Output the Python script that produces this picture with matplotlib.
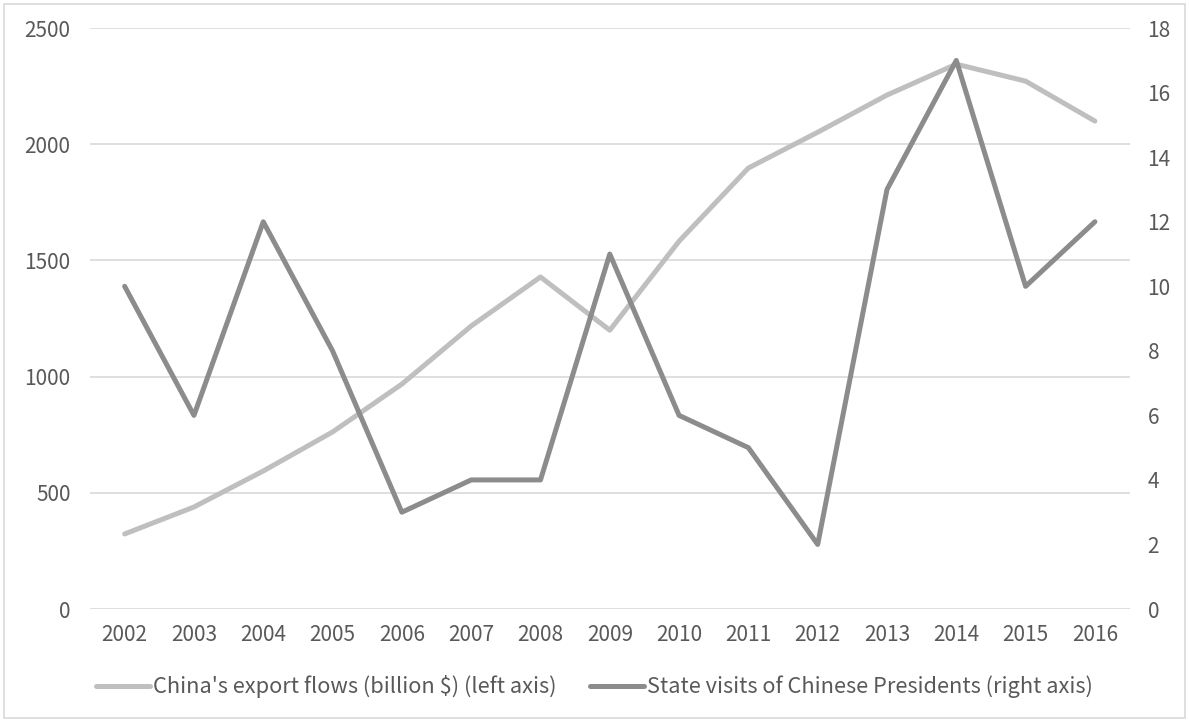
import matplotlib.pyplot as plt
from matplotlib.patches import Rectangle

plt.rcParams['font.family'] = ['Noto Sans CJK SC', 'DejaVu Sans']

years = ['2002', '2003', '2004', '2005', '2006', '2007', '2008', '2009',
         '2010', '2011', '2012', '2013', '2014', '2015', '2016']
exports = [323, 439, 594, 762, 968, 1218, 1429, 1200,
           1583, 1898, 2052, 2212, 2345, 2272, 2100]
visits = [10, 6, 12, 8, 3, 4, 4, 11, 6, 5, 2, 13, 17, 10, 12]

text_col = '#595959'
grid_col = '#D9D9D9'
fs = 15

fig = plt.figure(figsize=(11.89, 7.22), dpi=100)
ax = fig.add_axes([0.0757, 0.1565, 0.8743, 0.8045])
ax2 = ax.twinx()

x = range(len(years))
l1, = ax.plot(x, exports, color='#BFBFBF', lw=3.6, solid_capstyle='round',
              solid_joinstyle='round', zorder=3)
l2, = ax2.plot(x, visits, color='#8C8C8C', lw=3.6, solid_capstyle='round',
               solid_joinstyle='round', zorder=3)

ax.set_xlim(-0.5, len(years) - 0.5)
ax.set_ylim(0, 2500)
ax.set_yticks(range(0, 2501, 500))
ax2.set_ylim(0, 18)
ax2.set_yticks(range(0, 19, 2))
ax.set_xticks(list(x))
ax.set_xticklabels(years)

ax.grid(axis='y', color=grid_col, lw=1.2)
ax.set_axisbelow(True)
for a in (ax, ax2):
    for s in a.spines.values():
        s.set_visible(False)
    a.tick_params(length=0, labelsize=fs, labelcolor=text_col)
ax.tick_params(axis='y', pad=14)
ax2.tick_params(axis='y', pad=13)
ax.tick_params(axis='x', pad=11)

fig.legend([l1, l2],
           ["China's export flows (billion $) (left axis)",
            'State visits of Chinese Presidents (right axis)'],
           loc='center', bbox_to_anchor=(0.5, 0.0485), ncol=2, frameon=False,
           fontsize=15.7, labelcolor=text_col, handlelength=2.5,
           handletextpad=0.15, columnspacing=1.5)

# outer frame
fig.patches.append(Rectangle((0.003, 0.005), 0.994, 0.99, transform=fig.transFigure,
                             fill=False, edgecolor=grid_col, lw=1.2))

fig.savefig('out.png', dpi=100)
